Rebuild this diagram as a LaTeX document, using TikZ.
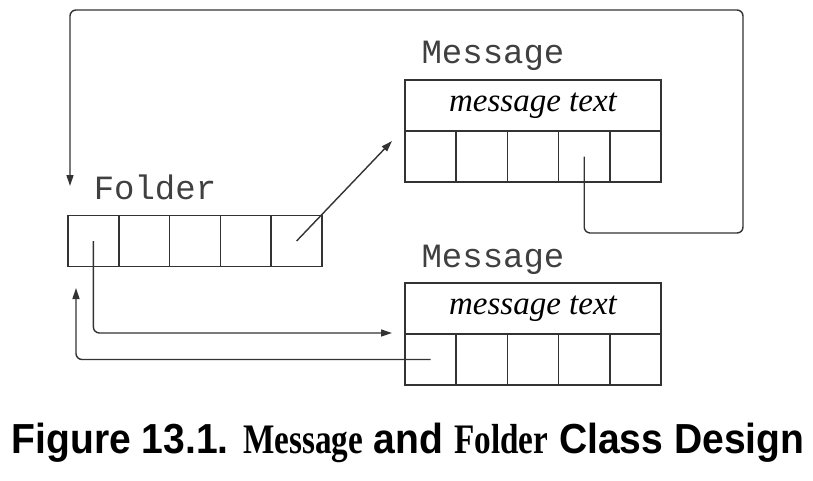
\documentclass[tikz,border=0pt]{standalone}
\usepackage{fontspec}
\usetikzlibrary{arrows.meta}
\setmainfont{Liberation Serif}
\newfontfamily\labelmono{Liberation Mono}
\newfontfamily\capsans{Liberation Sans}
\newfontfamily\capserif[FakeStretch=0.85]{Liberation Serif}

\begin{document}
\begin{tikzpicture}[x=1pt, y=-1pt, >={Triangle[length=11pt,width=7pt]},
    cell/.style={draw=black!80, line width=1.7pt, minimum width=51.2, minimum height=51,
      inner sep=0pt, outer sep=0pt},
    headbox/.style={cell, minimum width=256, font=\itshape\fontsize{33}{33}\selectfont},
    classname/.style={anchor=base, text=black!75, font=\labelmono\fontsize{34}{34}\selectfont},
    wire/.style={draw=black!80, line width=1.4pt, rounded corners=6pt, ->}]
  \useasboundingbox (0,0) rectangle (813,480);

  % Folder with five slots
  \node[classname] (lfold) at (155,199) {Folder};
  \foreach \i in {1,...,5}
    \node[cell, minimum width=50.8] (f\i) at ({68+50.8*(\i-0.5)},241) {};

  % Message, top
  \node[classname] (ltop) at (493,63) {Message};
  \node[headbox] (mtop) at (533,105.5) {message text};
  \foreach \i in {1,...,5}
    \node[cell] (t\i) at ({405+51.2*(\i-0.5)},156.5) {};

  % Message, bottom
  \node[classname] (lbot) at (493,267) {Message};
  \node[headbox] (mbot) at (533,308.5) {message text};
  \foreach \i in {1,...,5}
    \node[cell] (b\i) at ({405+51.2*(\i-0.5)},359.5) {};

  % Links
  \coordinate (tin) at (392,141);
  \coordinate (fin) at (70,186);
  \coordinate (bin) at (392,333);
  \coordinate (fback) at (76,288);
  \draw[wire] (f5.center) -- (tin);
  \draw[wire] (t4.center) |- (743,233) |- (70,10) -- (fin);
  \draw[wire] (f1.center) |- (bin);
  \draw[wire] (b1.center) -| (fback);

  % Caption
  \node[anchor=base, inner sep=0pt] (cap) at (408,453)
    {\scalebox{0.93}[1]{\capsans\bfseries\fontsize{42}{42}\selectfont Figure 13.1. {\capserif Message} and {\capserif Folder} Class Design}};
\end{tikzpicture}
\end{document}
